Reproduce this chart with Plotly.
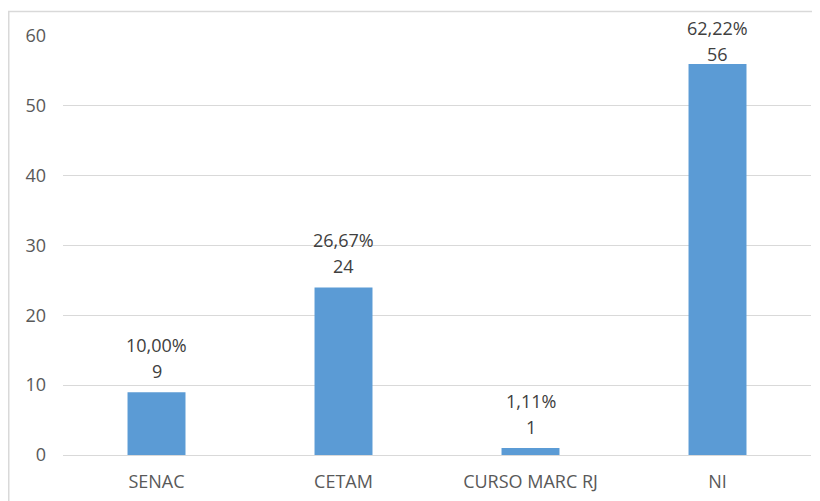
import plotly.graph_objects as go

categories = ["SENAC", "CETAM", "CURSO MARC RJ", "NI"]
values = [9, 24, 1, 56]
percent_labels = ["10,00%", "26,67%", "1,11%", "62,22%"]
y_ticks = [0, 10, 20, 30, 40, 50, 60]

# the page adds an 8px body margin, so the figure is sized/offset accordingly
W, H = 812, 493
ML, MR, MT, MB = 55, 9, 28, 46
ymax = 60
plot_h = H - MT - MB
ppu = plot_h / ymax

fig = go.Figure()
fig.add_trace(go.Bar(
    x=categories, y=values,
    marker=dict(color="#5B9BD5", line=dict(width=0)),
    width=0.31,
    hoverinfo="x+y",
))

font_family = "Open Sans"
annotations = []
for c, v, p in zip(categories, values, percent_labels):
    bar_top_px = MT + (ymax - v) * ppu
    shift_val = 21.5
    shift_pct = 47
    # keep labels inside the chart (as the original does for the tallest bar)
    min_center_px = 20.5
    if bar_top_px - shift_pct < min_center_px:
        d = shift_pct - (bar_top_px - min_center_px)
        shift_pct -= d
        shift_val -= d
    annotations.append(dict(x=c, y=v, xref="x", yref="y", text=str(v), showarrow=False,
                            yanchor="middle", yshift=shift_val,
                            font=dict(family=font_family, size=18, color="#404040")))
    annotations.append(dict(x=c, y=v, xref="x", yref="y", text=p, showarrow=False,
                            yanchor="middle", yshift=shift_pct,
                            font=dict(family=font_family, size=18, color="#404040")))

pw = W - ML - MR
def px_x(px):
    return (px - ML) / pw
def px_y(py):
    return (H - MB - py) / plot_h

fig.update_layout(
    width=W, height=H,
    margin=dict(l=ML, r=MR, t=MT, b=MB),
    paper_bgcolor="white", plot_bgcolor="white",
    showlegend=False,
    bargap=0.69,
    font=dict(family=font_family, size=18, color="#595959"),
    annotations=annotations,
    shapes=[dict(type="rect", xref="paper", yref="paper",
                 x0=px_x(0.75), x1=px_x(840), y0=px_y(530), y1=px_y(3.5),
                 line=dict(color="#D9D9D9", width=1.5), fillcolor="rgba(0,0,0,0)", layer="below")],
    xaxis=dict(showgrid=False, showline=False, zeroline=False, ticks="",
               ticklabelstandoff=14,
               tickfont=dict(family=font_family, size=18, color="#595959")),
    yaxis=dict(range=[0, ymax], tickvals=y_ticks, showgrid=True, gridcolor="#D9D9D9", gridwidth=1,
               zeroline=True, zerolinecolor="#D9D9D9", zerolinewidth=1,
               showline=False, ticks="", ticklabelstandoff=16,
               tickfont=dict(family=font_family, size=18, color="#595959")),
)

fig.write_html("out.html")
